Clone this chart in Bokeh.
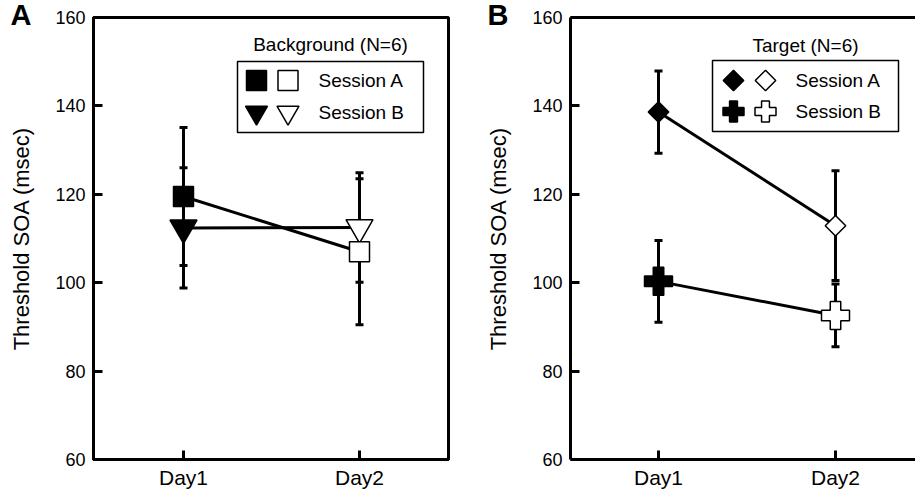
import math
from bokeh.plotting import figure
from bokeh.models import (ColumnDataSource, Whisker, TeeHead, FixedTicker, Range1d,
                          Label, BoxAnnotation, LinearAxis, Title)
from bokeh.layouts import row
from bokeh.embed import file_html
from bokeh.resources import INLINE

# ---------------- data ----------------
days = ["Day1", "Day2"]
day_x = [1, 2]
y_ticks = [60, 80, 100, 120, 140, 160]
y_label = "Threshold SOA (msec)"
session_labels = ["Session A", "Session B"]

bg_title = "Background (N=6)"
bg_a_mean = [119.5, 107.0]
bg_a_se = [15.6, 16.5]
bg_b_mean = [112.4, 112.5]
bg_b_se = [13.6, 12.4]

tg_title = "Target (N=6)"
tg_a_mean = [138.6, 112.9]
tg_a_se = [9.3, 12.4]
tg_b_mean = [100.3, 92.6]
tg_b_se = [9.25, 7.1]

FONT = "Liberation Sans"
Y0, Y1 = 60, 160
FRAME_TOP, FRAME_BOTTOM = 17, 459
PX_PER_Y = (FRAME_BOTTOM - FRAME_TOP) / (Y1 - Y0)


def make_panel(width, left_border, right_border, x0, x1, outline, letter):
    p = figure(width=width, height=492, x_range=Range1d(x0, x1), y_range=Range1d(Y0, Y1),
               output_backend="svg", toolbar_location=None, title=None,
               min_border_left=left_border, min_border_right=right_border,
               min_border_top=FRAME_TOP, min_border_bottom=492 - FRAME_BOTTOM)
    p.xgrid.visible = False
    p.ygrid.visible = False
    p.background_fill_color = "white"
    p.border_fill_color = "white"
    xb = p.below[0]
    yl = p.left[0]
    for ax in (xb, yl):
        ax.axis_line_width = 3
        ax.axis_line_color = "black"
        ax.major_tick_in = 9
        ax.major_tick_out = 0
        ax.major_tick_line_width = 3
        ax.major_tick_line_color = "black"
        ax.minor_tick_line_color = None
        ax.major_label_text_font = FONT
        ax.major_label_text_color = "black"
    yl.ticker = FixedTicker(ticks=y_ticks)
    yl.major_label_text_font_size = "18px"
    yl.major_label_standoff = 8
    yl.axis_label = y_label
    yl.axis_label_text_font = FONT
    yl.axis_label_text_font_size = "22px"
    yl.axis_label_text_font_style = "normal"
    yl.axis_label_text_color = "black"
    yl.axis_label_standoff = 18
    xb.ticker = FixedTicker(ticks=day_x)
    xb.major_label_overrides = {x: d for x, d in zip(day_x, days)}
    xb.major_label_text_font_size = "21px"
    xb.major_label_standoff = 6
    if outline:
        p.outline_line_color = "black"
        p.outline_line_width = 3
    else:
        p.outline_line_color = None
        top = LinearAxis(ticker=FixedTicker(ticks=[]), axis_line_width=3, axis_line_color="black",
                         major_tick_line_color=None, minor_tick_line_color=None,
                         major_tick_in=0, major_tick_out=0, major_label_standoff=0,
                         major_label_text_font_size="0px")
        p.add_layout(top, "above")
    # panel letter, pulled into the top-left corner of the figure
    p.add_layout(Title(text=letter, text_font=FONT, text_font_size="29px",
                       text_font_style="bold", text_color="black", align="left",
                       vertical_align="top", offset=-83, standoff=-30,
                       text_line_height=1.4), "above")
    return p


def add_series(p, mean, se, marker, size, angle=0.0):
    src = ColumnDataSource(dict(
        x=day_x, y=mean,
        upper=[m + s for m, s in zip(mean, se)],
        lower=[m - s for m, s in zip(mean, se)],
        fill=["black", "white"],
    ))
    p.add_layout(Whisker(source=src, base="x", upper="upper", lower="lower",
                         line_width=3, line_color="black",
                         upper_head=TeeHead(size=8, line_width=3, line_color="black"),
                         lower_head=TeeHead(size=8, line_width=3, line_color="black")))
    p.line("x", "y", source=src, line_width=3, line_color="black")
    p.scatter("x", "y", source=src, marker=marker, size=size, angle=angle,
              fill_color="fill", line_color="black", line_width=1.5)


def add_legend(p, L, x0, scale, title, keys, box, title_xy, cols, rows, text_x):
    def dx(px):
        return x0 + (px - L) / scale

    def dy(py):
        return Y1 - (py - FRAME_TOP) / PX_PER_Y

    bl, br, bt, bb = box
    p.add_layout(BoxAnnotation(left=dx(bl), right=dx(br), top=dy(bt), bottom=dy(bb),
                               fill_color=None, fill_alpha=0, line_color="black",
                               line_width=1.5, line_alpha=1))
    p.add_layout(Label(x=dx(title_xy[0]), y=dy(title_xy[1]), text=title, text_font=FONT,
                       text_font_size="19px", text_align="center", text_baseline="middle",
                       text_color="black"))
    for (marker, size, angle), ry, lab in zip(keys, rows, session_labels):
        p.scatter([dx(cols[0]), dx(cols[1])], [dy(ry), dy(ry)], marker=marker, size=size,
                  angle=angle, fill_color=["black", "white"], line_color="black", line_width=1.5)
        p.add_layout(Label(x=dx(text_x), y=dy(ry), text=lab, text_font=FONT,
                           text_font_size="19px", text_align="left", text_baseline="middle",
                           text_color="black"))


# ---------------- panel A ----------------
LA, DAY1A, DAY2A, RA = 93, 183, 359, 448
sA = DAY2A - DAY1A
xa0 = 1 - (DAY1A - LA) / sA
xa1 = 1 + (RA - DAY1A) / sA
pA = make_panel(455, LA, 455 - RA, xa0, xa1, outline=True, letter="A")
add_series(pA, bg_b_mean, bg_b_se, "inverted_triangle", 27)
add_series(pA, bg_a_mean, bg_a_se, "square", 20)
add_legend(pA, LA, xa0, sA, bg_title,
           [("square", 20, 0.0), ("inverted_triangle", 22, 0.0)],
           (237, 423, 61, 132), (330, 44), (256, 287.5), (80, 112), 318)

# ---------------- panel B ----------------
OFF = 455
LB, DAY1B, DAY2B, RB = 570 - OFF, 658 - OFF, 835 - OFF, 915 - OFF
sB = DAY2B - DAY1B
xb0 = 1 - (DAY1B - LB) / sB
xb1 = 1 + (RB - DAY1B) / sB
pB = make_panel(460, LB, 0, xb0, xb1, outline=False, letter="B")
add_series(pB, tg_a_mean, tg_a_se, "square", 14.5, math.pi / 4)
add_series(pB, tg_b_mean, tg_b_se, "plus", 28)
add_legend(pB, LB, xb0, sB, tg_title,
           [("square", 14.5, math.pi / 4), ("plus", 21, 0.0)],
           (712 - OFF, 898 - OFF, 60, 131), (805 - OFF, 45), (733 - OFF, 765 - OFF),
           (80, 111), 795 - OFF)

layout = row(pA, pB)
open("out.html", "w").write(file_html(layout, INLINE))
